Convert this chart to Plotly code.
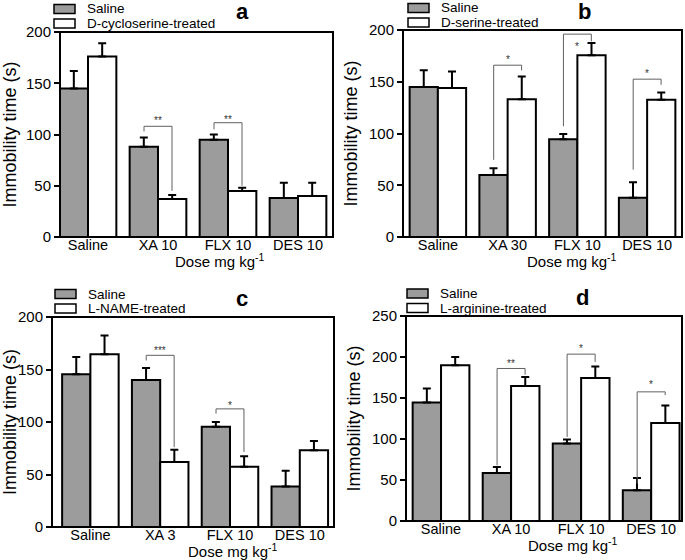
import plotly.graph_objects as go

# ---- data ----
cats_a = ["Saline", "XA 10", "FLX 10", "DES 10"]
cats_b = ["Saline", "XA 30", "FLX 10", "DES 10"]
cats_c = ["Saline", "XA 3", "FLX 10", "DES 10"]
cats_d = ["Saline", "XA 10", "FLX 10", "DES 10"]

saline_a = [145, 88, 95, 38]
saline_a_err = [17, 9, 5, 15]
treated_a = [176, 37, 45, 40]
treated_a_err = [13, 4, 3, 13]

saline_b = [145, 60, 94.5, 38]
saline_b_err = [16, 6.5, 5, 15]
treated_b = [144, 133, 175.5, 132.5]
treated_b_err = [16, 22, 12, 7]

saline_c = [145.5, 140, 95.5, 38.5]
saline_c_err = [16.5, 11.5, 4.5, 15]
treated_c = [164.5, 62, 57.5, 73]
treated_c_err = [18, 11.5, 10, 9]

saline_d = [144.5, 58.5, 94.5, 37.5]
saline_d_err = [17, 7.5, 5, 15]
treated_d = [190, 164.5, 174.5, 119.5]
treated_d_err = [10, 11, 14, 21.5]

# significance brackets: (group, left leg bottom, top, right leg bottom, label, label y)
brackets_a = [(1, 103, 108, 45, "**", 117), (2, 105, 111.5, 50, "**", 118)]
brackets_b = [(1, 74.5, 166, 161, "*", 174), (2, 107, 196, 189, "*", 187),
              (3, 65, 152.5, 147, "*", 161)]
brackets_c = [(1, 158.5, 163.5, 76, "***", 171), (2, 108, 112.5, 71.5, "*", 119)]
brackets_d = [(1, 68, 186, 178.5, "**", 196), (2, 102.5, 203.5, 194, "*", 214.5),
              (3, 45.5, 157.5, 153.5, "*", 170)]

# ---- layout of the four panels (pixel positions) ----
W, H = 685, 560
FONT = "Liberation Sans, Arial, sans-serif"
GRAY = "#9c9c9c"

def px_x(a, b):
    return [a / W, b / W]

def px_y(top, bottom):
    return [1 - bottom / H, 1 - top / H]

panels = [
    dict(cats=cats_a, sal=saline_a, sal_err=saline_a_err, trt=treated_a, trt_err=treated_a_err,
         name="D-cycloserine-treated", brackets=brackets_a, letter="a", ymax=200,
         xrange=[-0.4, 3.5], xdom=px_x(60, 333), ydom=px_y(32, 237),
         leg=(54, 9), let=(242, 11), title_x=0.586),
    dict(cats=cats_b, sal=saline_b, sal_err=saline_b_err, trt=treated_b, trt_err=treated_b_err,
         name="D-serine-treated", brackets=brackets_b, letter="b", ymax=200,
         xrange=[-0.5, 3.5], xdom=px_x(403, 682), ydom=px_y(30, 237),
         leg=(408, 8), let=(584, 11), title_x=0.606),
    dict(cats=cats_c, sal=saline_c, sal_err=saline_c_err, trt=treated_c, trt_err=treated_c_err,
         name="L-NAME-treated", brackets=brackets_c, letter="c", ymax=200,
         xrange=[-0.55, 3.49], xdom=px_x(52, 334), ydom=px_y(317, 527),
         leg=(55, 294), let=(242, 298), title_x=0.642),
    dict(cats=cats_d, sal=saline_d, sal_err=saline_d_err, trt=treated_d, trt_err=treated_d_err,
         name="L-arginine-treated", brackets=brackets_d, letter="d", ymax=250,
         xrange=[-0.5, 3.44], xdom=px_x(406, 682), ydom=px_y(316, 521),
         leg=(407, 293.5), let=(582, 297), title_x=0.605),
]

fig = go.Figure()
annotations = []
shapes = []
layout = {}

for i, p in enumerate(panels):
    n = "" if i == 0 else str(i + 1)
    xa, ya = "x" + n, "y" + n
    pos = list(range(len(p["cats"])))
    series = [(p["sal"], p["sal_err"], GRAY, "Saline"),
              (p["trt"], p["trt_err"], "white", p["name"])]

    for vals, errs, fill, name in series:
        fig.add_trace(go.Bar(
            x=pos, y=vals, name=name, xaxis=xa, yaxis=ya, showlegend=False,
            marker=dict(color=fill, line=dict(color="black", width=2)),
            error_y=dict(type="data", array=errs, arrayminus=[0] * len(errs),
                         symmetric=False, color="black", thickness=2, width=4),
        ))

    for g, yl, yt, yr, lab, ly in p["brackets"]:
        fig.add_trace(go.Scatter(
            x=[g - 0.2, g - 0.2, g + 0.2, g + 0.2], y=[yl, yt, yt, yr],
            mode="lines", line=dict(color="#606060", width=1),
            xaxis=xa, yaxis=ya, showlegend=False, hoverinfo="skip",
        ))
        annotations.append(dict(x=g, y=ly, xref=xa, yref=ya, text=lab, showarrow=False,
                                yshift=-3, font=dict(size=10, color="#333333", family=FONT)))

    # frame round the plot area
    shapes.append(dict(type="rect", xref=xa + " domain", yref=ya + " domain",
                       x0=0, x1=1, y0=0, y1=1, line=dict(color="black", width=2)))

    # legend: wide swatches with labels
    lx, ly0 = p["leg"]
    for k, (vals, errs, fill, name) in enumerate(series):
        cy = ly0 + k * 14.5
        shapes.append(dict(type="rect", xref="paper", yref="paper",
                           x0=lx / W, x1=(lx + 21) / W,
                           y0=1 - (cy + 4.5) / H, y1=1 - (cy - 4.5) / H,
                           fillcolor=fill, line=dict(color="black", width=1.5)))
        annotations.append(dict(x=(lx + 31) / W, y=1 - cy / H, xref="paper", yref="paper",
                                text=name, showarrow=False, xanchor="left", yanchor="middle",
                                font=dict(size=13.5, color="black", family=FONT)))

    annotations.append(dict(x=p["let"][0] / W, y=1 - p["let"][1] / H, xref="paper", yref="paper",
                            text="<b>%s</b>" % p["letter"], showarrow=False,
                            xanchor="center", yanchor="middle",
                            font=dict(size=22, color="black", family=FONT)))
    annotations.append(dict(x=p["title_x"], y=0, xref=xa + " domain", yref=ya + " domain",
                            text="Dose mg kg<sup>-1</sup>", showarrow=False,
                            xanchor="center", yanchor="middle", yshift=-23,
                            font=dict(size=15, color="black", family=FONT)))

    layout["xaxis" + n] = dict(
        domain=p["xdom"], anchor=ya, range=p["xrange"], automargin=False,
        tickmode="array", tickvals=pos, ticktext=p["cats"],
        showline=False, showgrid=False, zeroline=False, ticks="",
        ticklabelstandoff=-3,
        tickfont=dict(size=14.5, color="black", family=FONT),
    )
    layout["yaxis" + n] = dict(
        domain=p["ydom"], anchor=xa, range=[0, p["ymax"]], dtick=50, automargin=False,
        showline=False, showgrid=False, zeroline=False,
        ticks="outside", ticklen=5, tickwidth=1.5, tickcolor="black",
        tickfont=dict(size=15, color="black", family=FONT),
        title=dict(text="Immobility time (s)", font=dict(size=18, color="black", family=FONT),
                   standoff=6),
    )

fig.update_layout(
    width=W, height=H, margin=dict(l=0, r=0, t=0, b=0, autoexpand=False),
    barmode="group", bargap=0.19, bargroupgap=0,
    plot_bgcolor="white", paper_bgcolor="white",
    font=dict(family=FONT, color="black"),
    annotations=annotations, shapes=shapes, **layout,
)

fig.write_html("out.html", config={"displayModeBar": False},
               post_script="document.body.style.margin = '0px';")
